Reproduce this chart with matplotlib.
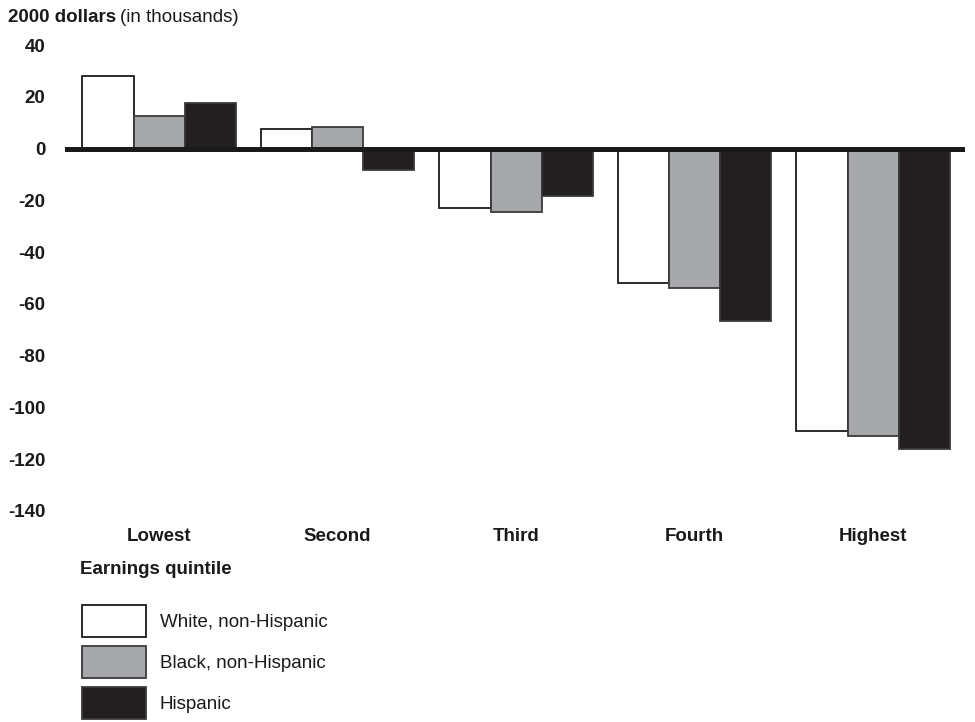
import numpy as np
import matplotlib.pyplot as plt
from matplotlib.patches import Patch

plt.rcParams['font.family'] = ['Liberation Sans', 'DejaVu Sans']

# data (2000 dollars, thousands)
quintiles = ['Lowest', 'Second', 'Third', 'Fourth', 'Highest']
white = [28, 7.6, -22.8, -52, -109]
black = [12.5, 8.2, -24.4, -53.8, -111.2]
hispanic = [17.5, -8.4, -18.3, -66.7, -116]
series_names = ['White, non-Hispanic', 'Black, non-Hispanic', 'Hispanic']
yticks = [40, 20, 0, -20, -40, -60, -80, -100, -120, -140]

fills = ['white', '#a7a8ab', '#231f20']
edges = ['#1a1a1a', '#3a3a3a', '#3a3a3a']
fs = 13.5

fig = plt.figure(figsize=(9.75, 7.22), dpi=100)
ax = fig.add_axes([65/975, 1 - 516/722, 900/975, (516 - 40)/722])

x = np.arange(len(quintiles))
w = 0.286
for i, vals in enumerate([white, black, hispanic]):
    ax.bar(x + (i - 1) * w, vals, w, color=fills[i], edgecolor=edges[i],
           linewidth=1.3, zorder=2)

ax.axhline(0, color='#1a1a1a', lw=3.6, zorder=3)

ax.set_xlim(-0.527, 4.515)
ax.set_ylim(-142, 42)
for s in ax.spines.values():
    s.set_visible(False)
ax.set_yticks(yticks)
ax.set_yticklabels([str(t) for t in yticks], fontweight='bold', fontsize=fs)
ax.set_xticks(x)
ax.set_xticklabels(quintiles, fontweight='bold', fontsize=fs, va='baseline')
ax.tick_params(axis='y', length=0, pad=14, colors='#1a1a1a')
ax.tick_params(axis='x', length=0, pad=18, colors='#1a1a1a')

# title: bold part + regular part
t1 = fig.text(8/975, 1 - 18/722, '2000 dollars', fontweight='bold',
              fontsize=fs, va='center', ha='left', color='#1a1a1a')
fig.canvas.draw()
bb = t1.get_window_extent(fig.canvas.get_renderer())
fig.text((bb.x1 + 4) / 975, 1 - 18/722, '(in thousands)', fontsize=fs,
         va='center', ha='left', color='#1a1a1a')

fig.text(80/975, 1 - 570/722, 'Earnings quintile', fontweight='bold',
         fontsize=fs, va='center', ha='left', color='#1a1a1a')

handles = [Patch(facecolor=fills[i], edgecolor=edges[i], linewidth=1.3)
           for i in range(3)]
fig.legend(handles, series_names, loc='upper left',
           bbox_to_anchor=(82/975, 1 - 605/722), frameon=False,
           fontsize=fs, handlelength=3.4, handleheight=2.25,
           labelspacing=0.48, handletextpad=0.75, borderaxespad=0,
           borderpad=0, labelcolor='#1a1a1a')

plt.savefig('out.png', dpi=100)
